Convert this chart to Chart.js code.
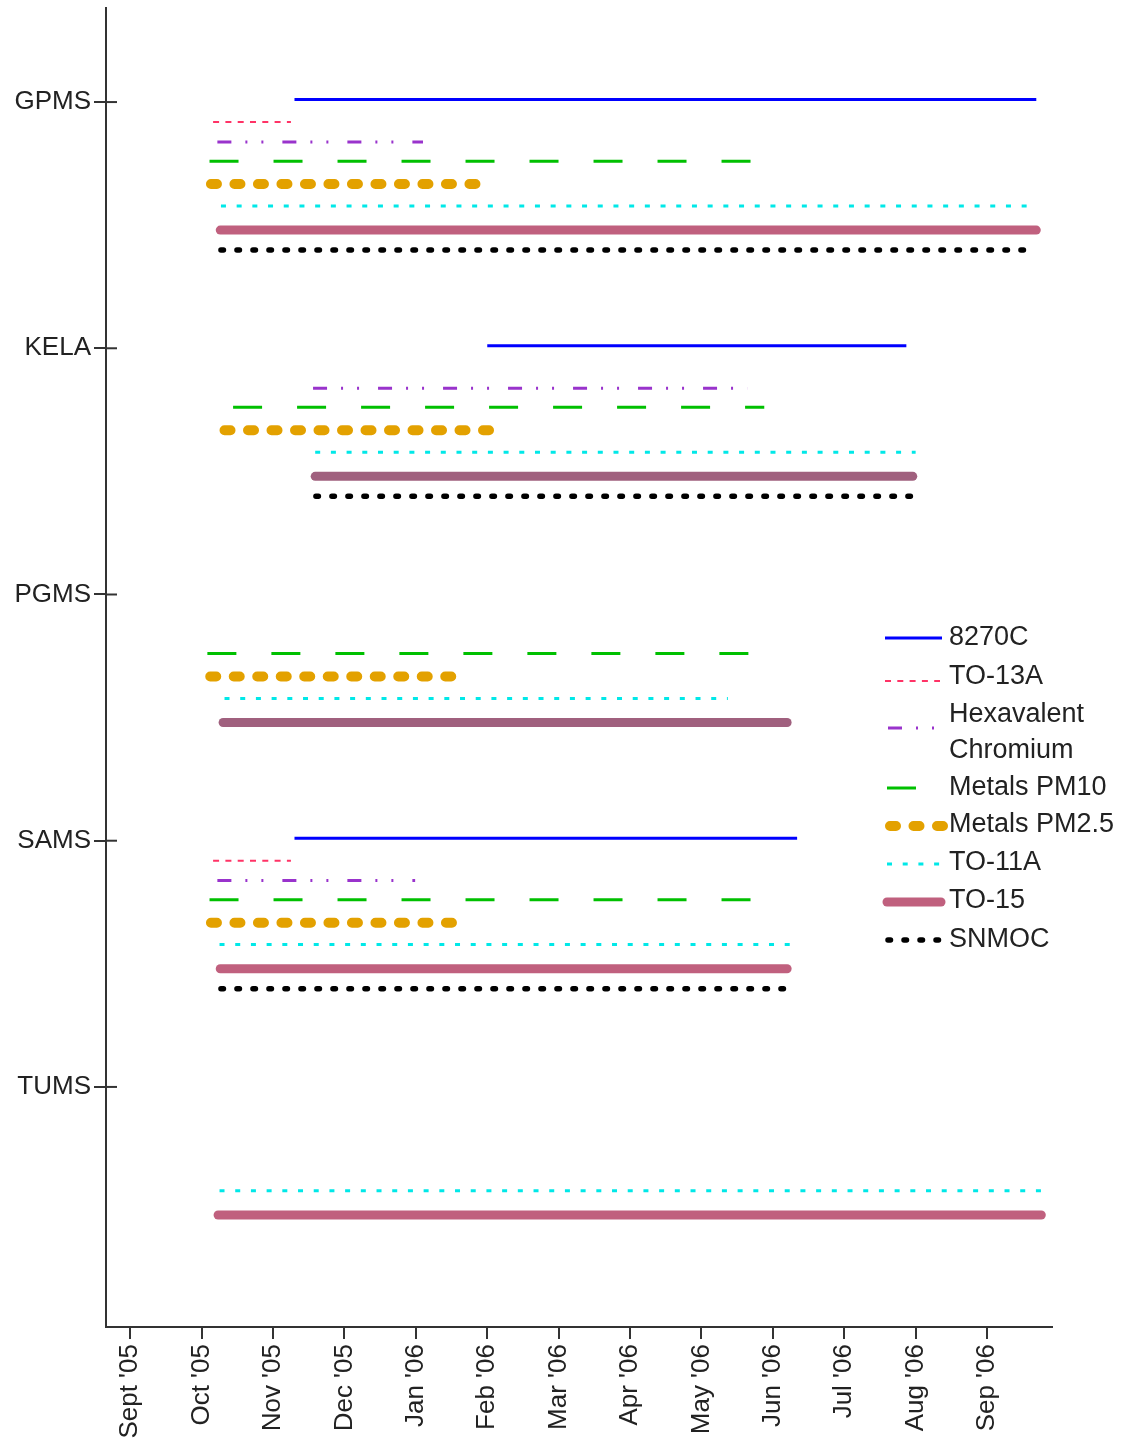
<!DOCTYPE html>
<html>
<head>
<meta charset="utf-8">
<title>Sampling periods by site</title>
<script src="https://cdn.jsdelivr.net/npm/chart.js@4.4.1/dist/chart.umd.min.js"></script>
<style>
  html, body { margin: 0; padding: 0; background: #fff; }
  #wrap { width: 1129px; height: 1447px; position: relative; }
</style>
</head>
<body>
<div id="wrap"><canvas id="chart"></canvas></div>
<script>
// Sites on the y axis (top to bottom)
const sites = ['GPMS', 'KELA', 'PGMS', 'SAMS', 'TUMS'];

// Month tick labels, x value = months after 1 Sept 2005
const monthLabels = ["Sept '05", "Oct '05", "Nov '05", "Dec '05", "Jan '06", "Feb '06",
  "Mar '06", "Apr '06", "May '06", "Jun '06", "Jul '06", "Aug '06", "Sep '06"];

const methods = ['8270C', 'TO-13A', 'Hexavalent Chromium', 'Metals PM10',
  'Metals PM2.5', 'TO-11A', 'TO-15', 'SNMOC'];

// Sampling periods [start, end] in months, one entry per site (null = not sampled)
const p8270C  = [[2.30, 12.69], [5.00, 10.87], null, [2.30, 9.34], null];
const pTO13A  = [[1.16, 2.25], null, null, [1.16, 2.25], null];
const pHexCr  = [[1.22, 4.10], [2.56, 8.64], null, [1.22, 3.99], null];
const pPM10   = [[1.11, 8.72], [1.44, 8.88], [1.08, 8.71], [1.11, 8.72], null];
const pPM25   = [[1.13, 4.84], [1.32, 5.10], [1.12, 4.56], [1.13, 4.56], null];
const pTO11A  = [[1.27, 12.57], [2.59, 11.00], [1.32, 8.37], [1.25, 9.24], [1.25, 12.78]];
const pTO15   = [[1.26, 12.69], [2.59, 10.96], [1.30, 9.20], [1.26, 9.20], [1.23, 12.76]];
const pSNMOC  = [[1.27, 12.57], [2.60, 10.98], null, [1.27, 9.24], null];

const periods = [p8270C, pTO13A, pHexCr, pPM10, pPM25, pTO11A, pTO15, pSNMOC];

// Line styles; row = offset below the site tick, in site units
const styles = [
  { color: '#0000ff', width: 3,  dash: [],                      cap: 'butt',  row: -0.01 },
  { color: '#ff3366', width: 2,  dash: [6, 6.3],                cap: 'butt',  row: 0.081 },
  { color: '#9933cc', width: 3,  dash: [14, 14, 2, 14, 2, 19],  cap: 'butt',  row: 0.162 },
  { color: '#00c000', width: 3,  dash: [29, 35],                cap: 'butt',  row: 0.240 },
  { color: '#e3a100', width: 10, dash: [6, 17.5],               cap: 'round', row: 0.333 },
  { color: '#00e8e8', width: 3,  dash: [5, 10.7],               cap: 'butt',  row: 0.422 },
  { color: '#c0607e', width: 9,  dash: [],                      cap: 'round', row: 0.520,
    siteColors: ['#c0607e', '#a0607e', '#a0607e', '#c0607e', '#c0607e'] },
  { color: '#000000', width: 5.5, dash: [2.5, 13.5],            cap: 'round', row: 0.601 }
];

const datasets = [];
methods.forEach((m, i) => {
  periods[i].forEach((p, s) => {
    if (!p) return;
    const st = styles[i];
    const y = s + st.row;
    datasets.push({
      label: m,
      data: [{ x: p[0], y: y }, { x: p[1], y: y }],
      borderColor: st.siteColors ? st.siteColors[s] : st.color,
      borderWidth: st.width,
      borderDash: st.dash,
      borderCapStyle: st.cap,
      pointRadius: 0,
      fill: false,
      tension: 0
    });
  });
});

const FONT = '"Liberation Sans", Arial, sans-serif';

// crossing tick stubs on the right side of the y axis
const yTickStubs = {
  id: 'yTickStubs',
  afterDraw(chart) {
    const ctx = chart.ctx, ys = chart.scales.y, left = chart.chartArea.left;
    ctx.save();
    ctx.strokeStyle = '#333';
    ctx.lineWidth = 2;
    sites.forEach((_, i) => {
      const py = ys.getPixelForValue(i);
      ctx.beginPath();
      ctx.moveTo(left, py);
      ctx.lineTo(left + 11, py);
      ctx.stroke();
    });
    ctx.restore();
  }
};

// legend drawn on the canvas, to the right of the plot
const legendBox = {
  id: 'legendBox',
  afterDraw(chart) {
    const ctx = chart.ctx;
    const rows = [
      { text: ['8270C'], ty: [638], ly: 638, x0: 885, x1: 942 },
      { text: ['TO-13A'], ty: [677], ly: 681, x0: 885, x1: 940 },
      { text: ['Hexavalent', 'Chromium'], ty: [715, 751], ly: 728, x0: 888, x1: 934 },
      { text: ['Metals PM10'], ty: [788], ly: 788, x0: 887, x1: 917 },
      { text: ['Metals PM2.5'], ty: [825], ly: 826, x0: 890, x1: 945 },
      { text: ['TO-11A'], ty: [863], ly: 864, x0: 887, x1: 942 },
      { text: ['TO-15'], ty: [901], ly: 902, x0: 887, x1: 941 },
      { text: ['SNMOC'], ty: [940], ly: 940, x0: 888, x1: 942 }
    ];
    ctx.save();
    rows.forEach((r, i) => {
      const st = styles[i];
      ctx.beginPath();
      ctx.strokeStyle = st.color;
      ctx.lineWidth = st.width;
      ctx.lineCap = st.cap;
      ctx.setLineDash(st.dash);
      ctx.moveTo(r.x0, r.ly);
      ctx.lineTo(r.x1, r.ly);
      ctx.stroke();
      ctx.setLineDash([]);
      ctx.fillStyle = '#222';
      ctx.font = '27px ' + FONT;
      ctx.textAlign = 'left';
      ctx.textBaseline = 'middle';
      r.text.forEach((t, k) => ctx.fillText(t, 949, r.ty[k]));
    });
    ctx.restore();
  }
};

new Chart(document.getElementById('chart'), {
  type: 'line',
  data: { datasets: datasets },
  options: {
    responsive: true,
    maintainAspectRatio: false,
    animation: false,
    layout: { padding: { top: 8, right: 77, left: 0, bottom: 0 } },
    plugins: { legend: { display: false }, tooltip: { enabled: false } },
    scales: {
      x: {
        type: 'linear',
        min: -0.34,
        max: 12.91,
        afterBuildTicks: s => { s.ticks = monthLabels.map((_, i) => ({ value: i })); },
        afterFit: s => { s.height = 120; s.paddingLeft = 0; s.paddingRight = 0; },
        ticks: {
          autoSkip: false,
          minRotation: 90,
          maxRotation: 90,
          padding: 5,
          color: '#222',
          font: { family: FONT, size: 26 },
          callback: v => monthLabels[v]
        },
        grid: { drawOnChartArea: false, tickLength: 12, color: '#333', lineWidth: 2 },
        border: { color: '#333', width: 2 }
      },
      y: {
        type: 'linear',
        reverse: true,
        min: -0.382,
        max: 4.975,
        afterBuildTicks: s => { s.ticks = sites.map((_, i) => ({ value: i })); },
        afterFit: s => { s.width = 106; s.paddingTop = 0; s.paddingBottom = 0; },
        ticks: {
          padding: 3,
          color: '#222',
          font: { family: FONT, size: 26 },
          callback: v => sites[v]
        },
        grid: { drawOnChartArea: false, tickLength: 12, color: '#333', lineWidth: 2 },
        border: { color: '#333', width: 2 }
      }
    }
  },
  plugins: [yTickStubs, legendBox]
});
</script>
</body>
</html>
